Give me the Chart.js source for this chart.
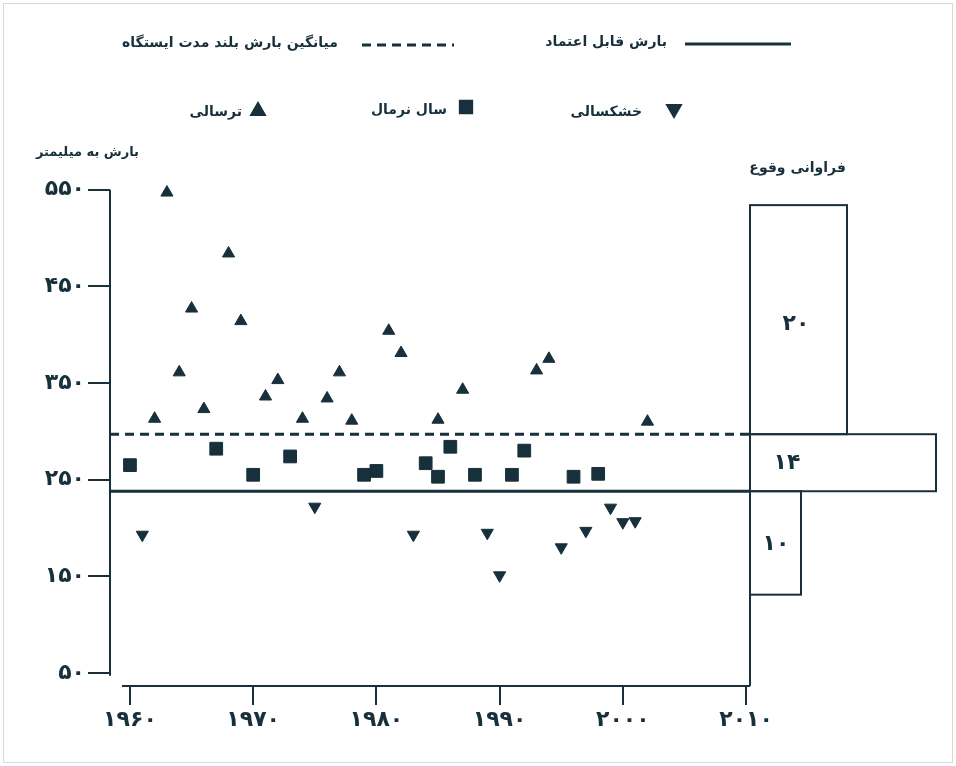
<!DOCTYPE html>
<html lang="fa">
<head>
<meta charset="UTF-8">
<title>بارش سالانه ایستگاه</title>
<script src="https://cdn.jsdelivr.net/npm/chart.js@4.4.1/dist/chart.umd.min.js"></script>
<style>
    html, body { margin: 0; padding: 0; background: #fff; }
    #wrap { width: 956px; height: 766px; }
</style>
</head>
<body>
<div id="wrap"><canvas id="rainChart" width="956" height="766"></canvas></div>
<script>
    // Annual rainfall (mm) per year, split by class
    const wetYears   = [1962, 1963, 1964, 1965, 1966, 1968, 1969, 1971, 1972, 1974, 1976, 1977, 1978, 1981, 1982, 1985, 1987, 1993, 1994, 2002];
    const wetRain    = [313, 547, 361, 427, 323, 484, 414, 336, 353, 313, 334, 361, 311, 404, 381, 312, 343, 363, 375, 310];
    const normalYears = [1960, 1967, 1970, 1973, 1979, 1980, 1984, 1985, 1986, 1988, 1991, 1992, 1996, 1998];
    const normalRain  = [265, 282, 255, 274, 255, 259, 267, 253, 284, 255, 255, 280, 253, 256];
    const dryYears   = [1961, 1975, 1983, 1989, 1990, 1995, 1997, 1999, 2000, 2001];
    const dryRain    = [193, 222, 193, 195, 151, 180, 197, 221, 206, 207];

    const longTermMean = 297;   // میانگین بارش بلند مدت
    const reliableRain = 238;   // بارش قابل اعتماد

    // frequency boxes on the right (count, top mm, bottom mm)
    const freqCounts = [20, 14, 10];
    const freqTop    = [534, 297, 238];
    const freqBottom = [297, 238, 131];

    const yTicks = [50, 150, 250, 350, 450, 550];
    const xTicks = [1960, 1970, 1980, 1990, 2000, 2010];

    const ink = '#17303b';
    const faFont = '"DejaVu Sans", sans-serif';
    const xMin = 1958.38, xMax = 2010.32;

    const toFa = n => String(n).replace(/\d/g, d => '۰۱۲۳۴۵۶۷۸۹'[d]);
    const pts = (xs, ys) => xs.map((x, i) => ({ x: x, y: ys[i] }));

    // axes, boxes, legend and titles
    const decor = {
        id: 'decor',
        beforeDraw(chart) {
            const ctx = chart.ctx;
            ctx.save();
            ctx.fillStyle = '#fff';
            ctx.fillRect(0, 0, chart.width, chart.height);
            ctx.strokeStyle = '#d8d8d8';
            ctx.lineWidth = 1;
            ctx.strokeRect(3.5, 3.5, chart.width - 7, chart.height - 7);
            ctx.restore();
        },
        afterDraw(chart) {
            const ctx = chart.ctx, x = chart.scales.x, y = chart.scales.y;
            const area = chart.chartArea;
            ctx.save();
            ctx.strokeStyle = ink;
            ctx.fillStyle = ink;

            // axis lines
            ctx.lineWidth = 2;
            ctx.beginPath();
            ctx.moveTo(area.left, y.getPixelForValue(550));
            ctx.lineTo(area.left, y.getPixelForValue(47));
            ctx.moveTo(x.getPixelForValue(1959.35), area.bottom);
            ctx.lineTo(area.right, area.bottom);
            ctx.moveTo(area.right, y.getPixelForValue(freqTop[0]));
            ctx.lineTo(area.right, area.bottom);
            ctx.stroke();

            // frequency boxes
            const boxW = [97, 186, 51];
            const labelDx = [46, 37, 26];
            ctx.font = 'bold 22px ' + faFont;
            ctx.textAlign = 'center';
            ctx.textBaseline = 'middle';
            freqCounts.forEach((c, i) => {
                const t = y.getPixelForValue(freqTop[i]);
                const b = y.getPixelForValue(freqBottom[i]);
                ctx.strokeRect(area.right, t, boxW[i], b - t);
                ctx.fillText(toFa(c), area.right + labelDx[i], (t + b) / 2 + (i === 0 ? 5 : 1));
            });

            // titles
            ctx.textAlign = 'right';
            ctx.font = 'bold 13px ' + faFont;
            ctx.fillText('بارش به میلیمتر', 139, 153);
            ctx.font = 'bold 14px ' + faFont;
            ctx.fillText('فراوانی وقوع', 846, 168);

            // legend
            ctx.font = 'bold 14px ' + faFont;
            ctx.fillText('میانگین بارش بلند مدت ایستگاه', 338, 43);
            ctx.fillText('بارش قابل اعتماد', 667, 42);
            ctx.fillText('ترسالی', 242, 112);
            ctx.fillText('سال نرمال', 447, 110);
            ctx.fillText('خشکسالی', 642, 112);

            ctx.lineWidth = 3;
            ctx.setLineDash([9, 6]);
            ctx.beginPath();
            ctx.moveTo(362, 45); ctx.lineTo(454, 45);
            ctx.stroke();
            ctx.setLineDash([]);
            ctx.beginPath();
            ctx.moveTo(685, 44); ctx.lineTo(791, 44);
            ctx.stroke();

            Chart.helpers.drawPoint(ctx, { pointStyle: 'triangle', radius: 7, rotation: 0, borderWidth: 1 }, 258, 111);
            ctx.fill();
            Chart.helpers.drawPoint(ctx, { pointStyle: 'rect', radius: 8, rotation: 0, borderWidth: 1 }, 466, 107);
            ctx.fill();
            Chart.helpers.drawPoint(ctx, { pointStyle: 'triangle', radius: 7, rotation: 180, borderWidth: 1 }, 674, 109);
            ctx.fill();
            ctx.restore();
        }
    };

    const rainChart = new Chart(document.getElementById('rainChart'), {
        type: 'scatter',
        data: {
            datasets: [
                {
                    type: 'line',
                    data: [{ x: xMin, y: longTermMean }, { x: xMax, y: longTermMean }],
                    borderColor: ink, borderWidth: 3, borderDash: [9, 6],
                    pointRadius: 0, showLine: true
                },
                {
                    type: 'line',
                    data: [{ x: xMin, y: reliableRain }, { x: xMax, y: reliableRain }],
                    borderColor: ink, borderWidth: 3,
                    pointRadius: 0, showLine: true
                },
                {
                    label: 'ترسالی',
                    data: pts(wetYears, wetRain),
                    pointStyle: 'triangle', pointRadius: 7,
                    backgroundColor: ink, borderColor: ink, borderWidth: 1
                },
                {
                    label: 'سال نرمال',
                    data: pts(normalYears, normalRain),
                    pointStyle: 'rect', pointRadius: 9,
                    backgroundColor: ink, borderColor: ink, borderWidth: 1
                },
                {
                    label: 'خشکسالی',
                    data: pts(dryYears, dryRain),
                    pointStyle: 'triangle', pointRadius: 7, rotation: 180,
                    backgroundColor: ink, borderColor: ink, borderWidth: 1
                }
            ]
        },
        options: {
            responsive: false,
            animation: false,
            clip: false,
            layout: { padding: { top: 180, right: 206, bottom: 0, left: 0 } },
            plugins: {
                legend: { display: false },
                tooltip: { enabled: false }
            },
            scales: {
                x: {
                    type: 'linear',
                    min: xMin,
                    max: xMax,
                    afterBuildTicks: s => { s.ticks = xTicks.map(v => ({ value: v })); },
                    afterFit: s => { s.height = 80; },
                    border: { display: false },
                    grid: { drawOnChartArea: false, drawTicks: true, tickLength: 19, color: ink, lineWidth: 2 },
                    ticks: {
                        color: ink, padding: 2, maxRotation: 0,
                        font: { family: faFont, size: 22, weight: 'bold' },
                        callback: v => toFa(v)
                    }
                },
                y: {
                    min: 36.5,
                    max: 560,
                    afterBuildTicks: s => { s.ticks = yTicks.map(v => ({ value: v })); },
                    afterFit: s => { s.width = 110; },
                    border: { display: false },
                    grid: { drawOnChartArea: false, drawTicks: true, tickLength: 22, color: ink, lineWidth: 2 },
                    ticks: {
                        color: ink, padding: 3,
                        font: { family: faFont, size: 22, weight: 'bold' },
                        callback: v => toFa(v)
                    }
                }
            }
        },
        plugins: [decor]
    });
</script>
</body>
</html>
